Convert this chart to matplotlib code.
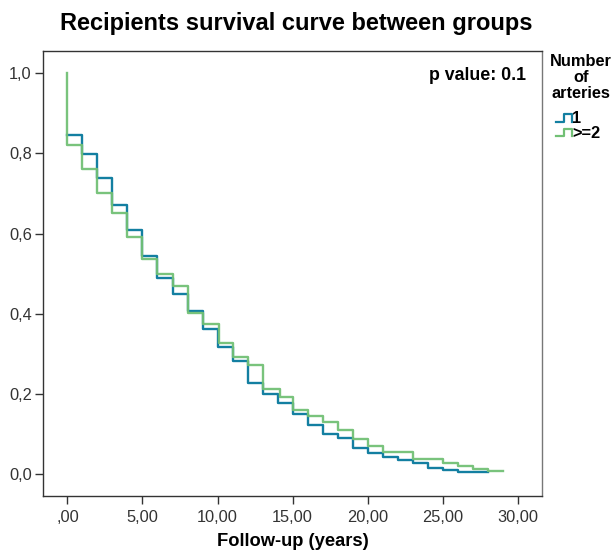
import matplotlib
matplotlib.use("Agg")
import matplotlib.pyplot as plt
from matplotlib.lines import Line2D
from matplotlib.ticker import FuncFormatter

plt.rcParams['font.family'] = ['Liberation Sans', 'DejaVu Sans']

# Kaplan-Meier steps (time in years, survival)
t_one = [0, 1, 2, 3, 4, 5, 6, 7, 8, 9, 10, 11, 12, 13, 14, 15, 16, 17, 18,
         19, 20, 21, 22, 23, 24, 25, 26, 28]
s_one = [0.847, 0.798, 0.738, 0.672, 0.609, 0.543, 0.488, 0.450, 0.407,
         0.362, 0.316, 0.281, 0.228, 0.200, 0.178, 0.150, 0.123, 0.099,
         0.089, 0.065, 0.052, 0.042, 0.034, 0.027, 0.015, 0.010, 0.005,
         0.005]

t_two = [0, 0, 1, 2, 3, 4, 5, 6, 7, 8, 9, 10.1, 11, 12, 13, 14.15, 15, 16,
         17, 18, 19, 20, 21, 23, 25, 26, 27, 28, 29]
s_two = [1.0, 0.821, 0.762, 0.701, 0.652, 0.591, 0.536, 0.500, 0.468, 0.403,
         0.374, 0.327, 0.293, 0.273, 0.213, 0.191, 0.159, 0.144, 0.129,
         0.111, 0.088, 0.069, 0.055, 0.038, 0.027, 0.021, 0.013, 0.0065,
         0.0065]

x_ticks = [0, 5, 10, 15, 20, 25, 30]
y_ticks = [0.0, 0.2, 0.4, 0.6, 0.8, 1.0]

blue = '#137fa1'
green = '#72c075'

fig = plt.figure(figsize=(6.14, 5.5), dpi=100)
ax = fig.add_axes([0.070, 0.098, 0.813, 0.809])

ax.step(t_one, s_one, where='post', color=blue, lw=1.7)
ax.step(t_two, s_two, where='post', color=green, lw=1.7, alpha=0.95)

ax.set_xlim(-1.63, 31.63)
ax.set_ylim(-0.055, 1.055)
ax.set_xticks(x_ticks)
ax.set_yticks(y_ticks)


def fmt_x(v, pos):
    s = '%.2f' % v
    s = s.replace('.', ',')
    if s.startswith('0,'):
        s = s[1:]
    return s


ax.xaxis.set_major_formatter(FuncFormatter(fmt_x))
ax.yaxis.set_major_formatter(FuncFormatter(lambda v, p: ('%.1f' % v).replace('.', ',')))
ax.tick_params(axis='both', direction='out', length=6, width=1, color='#333333',
               labelsize=11.8, labelcolor='#333333')
ax.tick_params(axis='x', pad=4)
ax.tick_params(axis='y', pad=2)
for sp in ax.spines.values():
    sp.set_color('#333333')
    sp.set_linewidth(1)
ax.spines['right'].set_color('#777777')

ax.set_xlabel('Follow-up (years)', fontsize=13.2, fontweight='bold', labelpad=6)
fig.suptitle('Recipients survival curve between groups', fontsize=17,
             fontweight='bold', x=0.483, y=0.978)
ax.text(0.968, 0.945, 'p value: 0.1', transform=ax.transAxes, ha='right',
        va='center', fontsize=12.8, fontweight='bold')

# legend outside the plot
fig.text(0.946, 0.859, 'Number\nof\narteries', ha='center', va='center',
         fontsize=11.8, fontweight='bold', linespacing=1.08)
for i, (lab, col) in enumerate([('1', blue), ('>=2', green)]):
    yb = 0.779 - i * 0.026
    xs = [0.905, 0.918, 0.918, 0.931, 0.931]
    ys = [yb, yb, yb + 0.013, yb + 0.013, yb]
    fig.add_artist(Line2D(xs, ys, color=col, lw=1.6, transform=fig.transFigure))
    fig.text(0.932, yb + 0.005, lab, ha='left', va='center', fontsize=11.8,
             fontweight='bold')

fig.savefig('out.png', dpi=100)
